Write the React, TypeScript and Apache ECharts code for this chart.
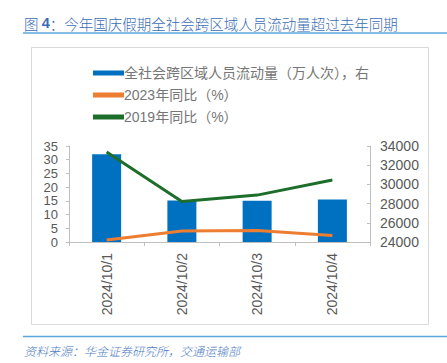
import React, { useEffect, useRef } from "react";
import * as echarts from "echarts";

const categories = ["2024/10/1", "2024/10/2", "2024/10/3", "2024/10/4"];
const flowVolume = [33150, 28330, 28300, 28420];
const yoy2023 = [0.7, 4.0, 4.2, 2.4];
const yoy2019 = [32.8, 14.8, 17.1, 22.6];
const leftTicks = { min: 0, max: 35, interval: 5 };
const leftTickLabels = [0, 5, 10, 15, 20, 25, 30, 35];
const rightTicks = { min: 24000, max: 34000, interval: 2000 };

const seriesNames = ["全社会跨区域人员流动量（万人次），右", "2023年同比（%）", "2019年同比（%）"];
const titleText = "今年国庆假期全社会跨区域人员流动量超过去年同期";
const sourceText = "资料来源：华金证券研究所，交通运输部";

const FONT = "'Liberation Sans', Arial, 'Noto Sans CJK SC', sans-serif";
const CJK = "'Noto Sans CJK SC', sans-serif";

export default function App() {
  const ref = useRef<HTMLDivElement>(null);
  useEffect(() => {
    if (!ref.current) return;
    const chart = echarts.init(ref.current, undefined, { renderer: "svg" });
    const axisGray = "#BFBFBF";
    const labelGray = "#595959";
    const gridLeft = 69;
    const staticGraphics: any[] = [
      {
        type: "rect",
        shape: { x: 31.5, y: 47.5, width: 397, height: 277 },
        style: { fill: "none", stroke: "#D9D9D9", lineWidth: 1 },
        z: -1,
      },
      {
        type: "text",
        x: 24,
        y: 23,
        style: {
          text: "{a|图 }{b|4}{a|：" + titleText + "}",
          verticalAlign: "middle",
          rich: {
            a: { fontSize: 14.5, fill: "#3A6DB5", fontWeight: 300, fontFamily: CJK },
            b: { fontSize: 14.5, fill: "#3A6DB5", fontWeight: "bold", fontFamily: FONT },
          },
        },
      },
      {
        type: "line",
        shape: { x1: 23, y1: 33, x2: 447, y2: 33 },
        style: { stroke: "#5DA7DC", lineWidth: 1.5 },
      },
      {
        type: "line",
        shape: { x1: 23, y1: 336.5, x2: 447, y2: 336.5 },
        style: { stroke: "#5DA7DC", lineWidth: 1.5 },
      },
      {
        type: "text",
        x: 24,
        y: 350,
        style: {
          text: sourceText,
          fontSize: 12,
          fontStyle: "italic",
          fontWeight: 300,
          fill: "#4A7CC0",
          verticalAlign: "middle",
          fontFamily: CJK,
        },
      },
    ];
    chart.setOption({
      animation: false,
      textStyle: { fontFamily: FONT },
      grid: { left: gridLeft, right: 77, top: 146, height: 96 },
      legend: {
        orient: "vertical",
        left: 88,
        top: 61,
        itemWidth: 31,
        itemHeight: 5,
        itemGap: 8,
        icon: "rect",
        textStyle: { color: "#767676", fontSize: 14, fontFamily: FONT, padding: [0, 0, 0, -5] },
        data: seriesNames,
      },
      xAxis: {
        type: "category",
        data: categories,
        axisLine: { lineStyle: { color: axisGray } },
        axisTick: { show: true, length: 4, lineStyle: { color: axisGray } },
        axisLabel: { rotate: 90, color: labelGray, fontSize: 14, margin: 11, fontFamily: FONT },
      },
      yAxis: [
        {
          type: "value",
          ...leftTicks,
          position: "left",
          splitLine: { show: false },
          axisLine: { show: true, lineStyle: { color: axisGray } },
          axisTick: { show: true, length: 3, lineStyle: { color: axisGray } },
          axisLabel: { show: false },
        },
        {
          type: "value",
          ...rightTicks,
          position: "right",
          splitLine: { show: false },
          axisLine: { show: true, lineStyle: { color: axisGray } },
          axisTick: { show: true, inside: true, length: 3, lineStyle: { color: axisGray } },
          axisLabel: {
            color: labelGray,
            fontSize: 14,
            margin: 10,
            fontFamily: FONT,
            showMinLabel: true,
            showMaxLabel: true,
            formatter: (v: number) => String(v),
          },
        },
      ],
      series: [
        {
          name: seriesNames[0],
          type: "bar",
          yAxisIndex: 1,
          data: flowVolume,
          barWidth: 29,
          itemStyle: { color: "#0070C0" },
        },
        {
          name: seriesNames[1],
          type: "line",
          yAxisIndex: 0,
          data: yoy2023,
          symbol: "none",
          lineStyle: { color: "#ED7D31", width: 3 },
          itemStyle: { color: "#ED7D31" },
        },
        {
          name: seriesNames[2],
          type: "line",
          yAxisIndex: 0,
          data: yoy2019,
          symbol: "none",
          lineStyle: { color: "#1E6E2B", width: 3 },
          itemStyle: { color: "#1E6E2B" },
        },
      ],
      graphic: staticGraphics,
    });
    // Left-axis tick labels, positioned through the axis' own scale
    const leftLabels = leftTickLabels.map((v) => {
      const py = chart.convertToPixel({ yAxisIndex: 0 }, v) as number;
      return {
        type: "text",
        x: gridLeft - 11,
        y: py,
        style: {
          text: String(v),
          fontSize: 13,
          lineHeight: 12,
          fill: labelGray,
          align: "right",
          verticalAlign: "middle",
          fontFamily: FONT,
        },
      };
    });
    chart.setOption({ graphic: [...staticGraphics, ...leftLabels] });
    return () => chart.dispose();
  }, []);
  return (
    <div
      ref={ref}
      style={{ position: "fixed", left: 0, top: 0, width: 447, height: 363, background: "#fff" }}
    />
  );
}
